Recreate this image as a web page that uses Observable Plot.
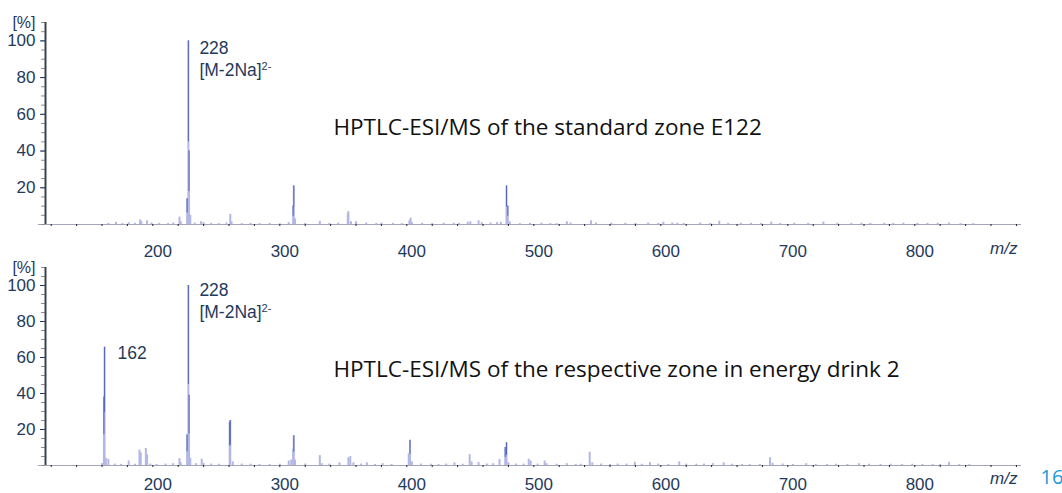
<!DOCTYPE html>
<html><head><meta charset="utf-8">
<script src="https://cdn.jsdelivr.net/npm/d3@7"></script>
<script src="https://cdn.jsdelivr.net/npm/@observablehq/plot@0.6"></script>
<style>
body{margin:0;background:#fff;}
#chart{width:1062px;height:493px;position:relative;overflow:hidden;background:#fff}
#chart svg{display:block;overflow:visible}
</style></head><body><div id="chart"></div>
<script>
// ---- data ----
const topMz = [165,171,176,181,186,190,191,195.5,199,205,212,216,221,222,227,228,228.5,229.5,233,238,240,246,252,258,261,262,270,277,284,292,300,307,310.5,311,312,320,331.5,339,346,353.5,354,356,360,368,376,380,389,396,402,403,404,412,420,429,437,441,448,450,456.5,459,466,471,474,478.5,479.5,481,489,497,506,513,518,526,529,545,549,561,572,580,590,598,602,609,613,618,631,639,646,653,663,671,679,687,694,705,716,728,739,750,758,765,776,783,791,802,810,818,827,836,846];
const topIntensity = [0.6,1.2,0.5,1,0.6,2.5,1.5,2,0.8,0.6,0.5,0.8,4,1.5,14,100,40,5,0.8,1.5,1,0.6,0.5,0.8,5.5,1.5,0.5,0.6,0.5,0.6,0.4,1,10,21,3,0.6,1.7,0.6,0.7,6,7,1.5,1.5,0.8,0.6,0.8,0.6,0.5,2,3.5,1,0.6,0.5,0.7,0.7,0.6,1.2,1.5,2,1,0.8,1,1.2,21,10,1.5,0.5,0.6,0.7,0.5,0.5,1.5,0.8,2,0.8,0.7,0.7,0.6,0.8,0.6,1.2,0.8,0.7,0.6,0.8,0.6,1.8,0.6,0.7,0.6,0.6,1.3,0.6,0.7,0.6,1.3,0.7,0.6,0.7,0.6,0.7,0.6,0.7,0.6,0.6,0.7,0.8,0.5,0.5];
const bottomMz = [160,161.5,162,163,165,170,175,181,186,189.5,190.5,194.5,195.5,198,203,210,216,221,222,227,228,228.5,229.5,234,238.5,240,246,252,260.5,261,263,270,277,284,292,300,307,309,310.5,311,312,320,331.5,333,339,347,354,355.5,358,364,368.5,375,381,388,401.5,402.5,404,411,419,425,431,437.5,444,449.5,451,456.5,463,468,473,477.5,478.5,480,486,492,496,497.5,503,508.5,510,518,526,533,537,544,546,553,560,566,573,579.5,585,591.5,598,606,614.5,620,628,634,641,649.5,656,664,670,678,686,688,696,704,714.5,722,731,738,747,756,764,773,781,790,798,806,814,820,827,835,843];
const bottomIntensity = [1,38,65.7,4,3.5,0.8,0.6,2.5,0.7,8.5,7,9.5,6,0.8,0.6,0.8,1,3.8,1.5,17,100,39,4,1,3.5,1.2,0.8,0.7,24,25,2,0.8,0.7,0.6,0.6,0.7,2.5,3,9,16.5,3,0.8,5.5,1,0.8,1.5,4.3,5,1.5,0.8,1.5,0.6,1,0.6,6.5,14,2,0.8,0.7,0.6,0.8,1.5,0.7,6,2,1.7,0.8,1,3.3,10,12.6,1.5,0.8,0.8,3.5,2.5,0.8,2.5,1,0.7,1,0.6,0.7,7.4,1.5,0.8,0.6,0.8,0.8,1.8,0.7,1.6,0.8,0.6,2,0.8,0.7,0.8,1,1.5,0.7,0.6,0.5,0.6,4.3,1.2,0.8,0.6,1,0.6,0.6,0.7,0.6,1,0.7,0.6,0.7,0.6,0.7,0.6,0.6,0.6,1.8,0.5,0.5];
const xTickLabels = [200,300,400,500,600,700,800];
const yTickLabels = [20,40,60,80,100];
const captions = ["HPTLC-ESI/MS of the standard zone E122", "HPTLC-ESI/MS of the respective zone in energy drink 2"];
const topPeakLabels = [{mz:228, i:100, label:"228", ion:"[M-2Na]", charge:"2-"}];
const bottomPeakLabels = [{mz:228, i:100, label:"228", ion:"[M-2Na]", charge:"2-"}];
const bottomExtraLabels = [{mz:162, i:65.7, label:"162"}];
const yUnit = "[%]";
const xUnit = "m/z";
const pageNumber = "16";

// ---- layout / style ----
const xDomain = [115.5, 884];
const xLineStart = 110;
const yDomain = [0, 110];
const xMinorTicks = d3.range(120, 881, 20);
const yMinorTicks = d3.range(0, 111, 5);
const textColor = "#1f3a5c";
const font = "'Liberation Sans', Arial, sans-serif";
const captionFont = "'Open Sans', 'Noto Sans', sans-serif";

function zip(mz, inten) { return mz.map((m, k) => ({mz: m, i: inten[k]})); }

function panel({peaks, height, marginTop, marginBottom, caption, captionDy, labels, extra, labDy, xPad, unitDy, page}) {
  const marks = [
    Plot.ruleY([0], {x1: xLineStart, x2: xDomain[1], stroke: "#a3a5bb", strokeWidth: 1}),
    Plot.ruleX(peaks, {x: "mz", y1: 0, y2: "i", stroke: "#b3b7e3", strokeWidth: 2}),
    Plot.ruleX(peaks.filter(d => d.i >= 10), {x: "mz", y1: d => d.i * 0.45, y2: "i", stroke: "#5665bd", strokeWidth: 1}),
    Plot.axisX({ticks: xMinorTicks, tickSize: 2, tickFormat: () => "", stroke: "#222", label: null}),
    Plot.axisX({ticks: xTickLabels, tickSize: 0, tickPadding: xPad, dx: 5, fontSize: 17, color: textColor, label: null}),
    Plot.axisY({ticks: yMinorTicks, tickSize: 4, tickFormat: () => "", stroke: "#8d8d8d", label: null}),
    Plot.axisY({ticks: yTickLabels, tickSize: 5, tickPadding: 5, fontSize: 17, color: textColor, label: null}),
    Plot.ruleX([xDomain[0]], {y1: yDomain[0], y2: yDomain[1], stroke: "#39424b", strokeWidth: 2}),
    Plot.text([yUnit], {frameAnchor: "top-left", dx: -10, dy: -6, textAnchor: "end", fontSize: 16, fill: textColor}),
    Plot.text([xUnit], {frameAnchor: "bottom-right", dx: -4, dy: unitDy, textAnchor: "end", fontSize: 17, fontStyle: "italic", fill: textColor}),
    Plot.text(labels, {x: "mz", y: "i", text: "label", dx: 11, dy: labDy, textAnchor: "start", fontSize: 17.5, fill: textColor}),
    Plot.text(labels, {x: "mz", y: "i", text: "ion", dx: 11, dy: labDy + 22, textAnchor: "start", fontSize: 17.5, fill: textColor}),
    Plot.text([caption], {frameAnchor: "top-left", dx: 288, dy: captionDy, textAnchor: "start", fontSize: 22.5, fontFamily: captionFont, fill: "#111"})
  ];
  if (extra) marks.push(Plot.text(extra, {x: "mz", y: "i", text: "label", dx: 13, dy: 6, textAnchor: "start", fontSize: 17.5, fill: textColor}));
  if (page) marks.push(Plot.text([page], {frameAnchor: "bottom-right", dx: 19, dy: unitDy, textAnchor: "start", fontSize: 20, fontFamily: captionFont, fill: "#1b9ad8"}));
  const svg = Plot.plot({
    width: 1062, height, marginLeft: 45, marginRight: 41, marginTop, marginBottom,
    x: {domain: xDomain, label: null},
    y: {domain: yDomain, label: null},
    style: {fontFamily: font, fontSize: "16px", background: "#fff", overflow: "visible"},
    marks
  });
  d3.select(svg).selectAll("text").filter(function() { return this.textContent === "[M-2Na]"; })
    .append("tspan").attr("baseline-shift", "super").attr("font-size", "11").text(labels[0].charge);
  return svg;
}

const chart = document.getElementById("chart");
chart.appendChild(panel({peaks: zip(topMz, topIntensity), height: 258, marginTop: 22, marginBottom: 34,
  caption: captions[0], captionDy: 97, labels: topPeakLabels, labDy: 8, xPad: 20, unitDy: 29}));
chart.appendChild(panel({peaks: zip(bottomMz, bottomIntensity), height: 235, marginTop: 9, marginBottom: 28,
  caption: captions[1], captionDy: 94, labels: bottomPeakLabels, extra: bottomExtraLabels, labDy: 5, xPad: 12, unitDy: 18, page: pageNumber}));
</script></body></html>
